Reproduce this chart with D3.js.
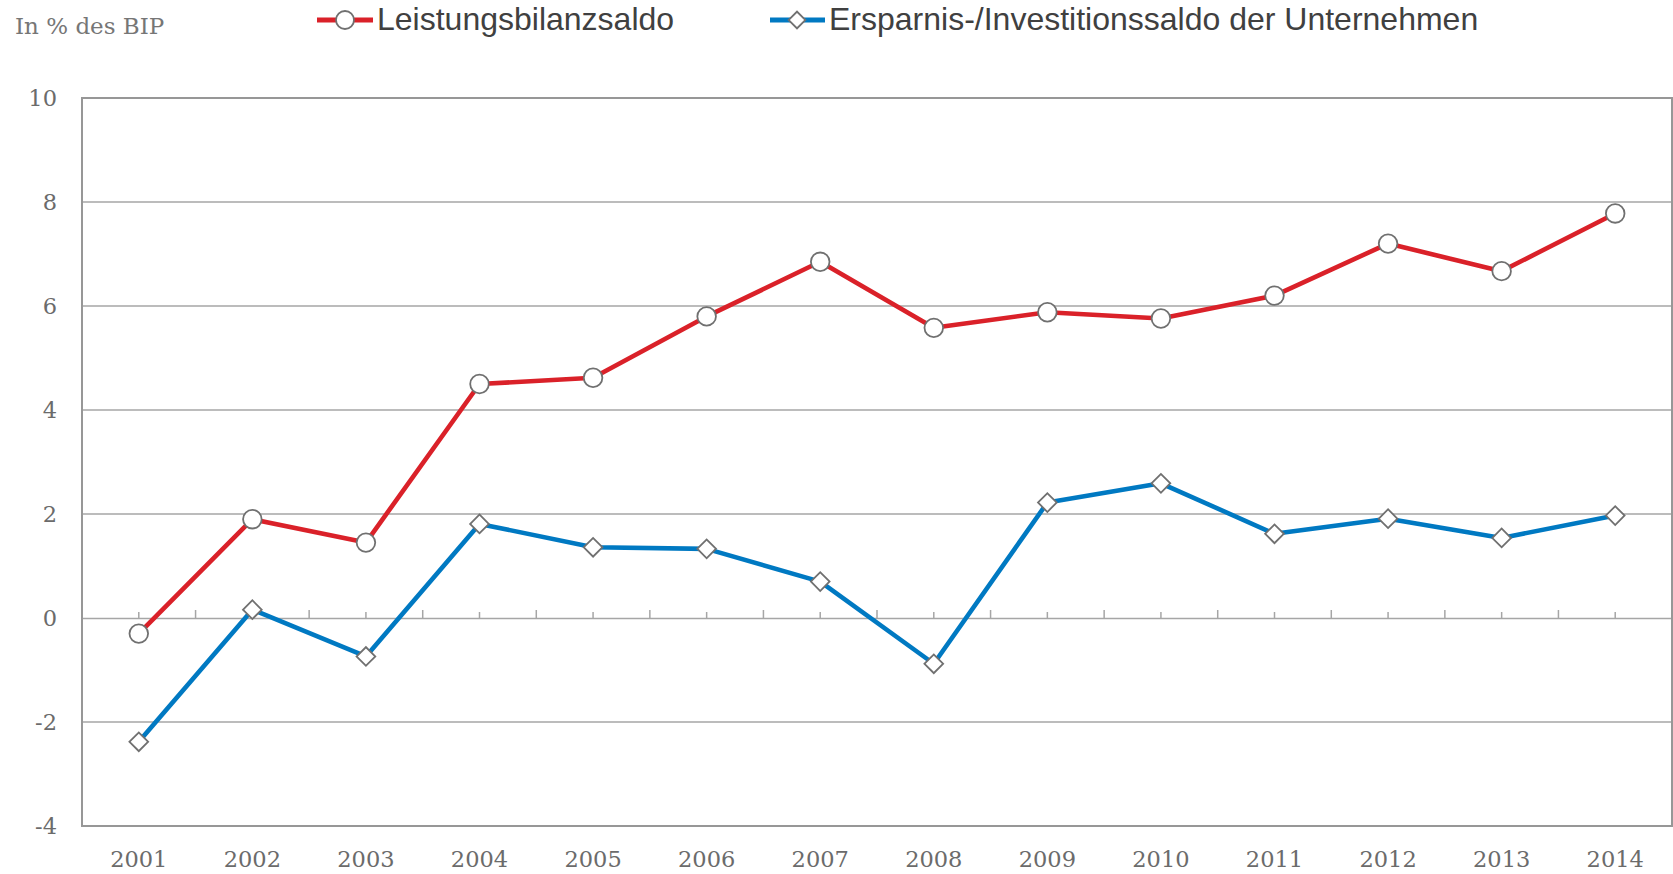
<!DOCTYPE html>
<html lang="de">
<head>
<meta charset="UTF-8">
<title>Leistungsbilanzsaldo</title>
<script src="https://d3js.org/d3.v7.min.js"></script>
<style>
body {margin: 0; background: #fff;}
svg {display: block;}
.serif {font-family: "DejaVu Serif", Georgia, serif; fill: #6b6b6b;}
.legend {font-family: "Liberation Sans", Arial, sans-serif; fill: #404040; font-size: 32px;}
</style>
</head>
<body>
<svg width="1673" height="874"></svg>
<script>
// data
var years = ["2001","2002","2003","2004","2005","2006","2007","2008","2009","2010","2011","2012","2013","2014"];
var leistungsbilanz = [-0.3, 1.9, 1.45, 4.5, 4.62, 5.8, 6.85, 5.58, 5.88, 5.76, 6.2, 7.2, 6.67, 7.78];
var unternehmen = [-2.38, 0.16, -0.74, 1.81, 1.36, 1.33, 0.7, -0.88, 2.22, 2.59, 1.62, 1.91, 1.54, 1.97];
var yTicks = [-4, -2, 0, 2, 4, 6, 8, 10];
var seriesNames = ["Leistungsbilanzsaldo", "Ersparnis-/Investitionssaldo der Unternehmen"];

var svg = d3.select("svg");
var plotLeft = 82, plotRight = 1672, plotTop = 98, plotBottom = 826;

var x = d3.scaleBand().domain(years).range([plotLeft, plotRight]).padding(0);
var y = d3.scaleLinear().domain([-4, 10]).range([plotBottom, plotTop]);
var cx = function(d, i) { return x(years[i]) + x.bandwidth() / 2; };

// gridlines
svg.append("g")
  .selectAll("line")
  .data(yTicks.filter(function(d) { return d != 0 && d != -4; }))
  .enter().append("line")
  .attr("x1", plotLeft).attr("x2", plotRight)
  .attr("y1", function(d) { return y(d); })
  .attr("y2", function(d) { return y(d); })
  .attr("stroke", "#a6a6a6").attr("stroke-width", 1.6);

// y labels
svg.append("g")
  .selectAll("text")
  .data(yTicks)
  .enter().append("text")
  .attr("class", "serif")
  .attr("x", 57)
  .attr("y", function(d) { return y(d); })
  .attr("dy", "0.36em")
  .attr("text-anchor", "end")
  .style("font-size", "22.5px")
  .text(function(d) { return d; });

// zero axis with ticks pointing up
var zeroAxis = svg.append("g")
  .attr("transform", "translate(0," + y(0) + ")")
  .call(d3.axisTop(x).tickSize(6).tickSizeOuter(0).tickFormat(""));
zeroAxis.select(".domain").attr("stroke", "#a6a6a6").attr("stroke-width", 1.6);
zeroAxis.selectAll(".tick line").attr("stroke", "#a6a6a6").attr("stroke-width", 1.5);
zeroAxis.selectAll(".between")
  .data(years.slice(1))
  .enter().append("line")
  .attr("class", "between")
  .attr("x1", function(d) { return x(d); })
  .attr("x2", function(d) { return x(d); })
  .attr("y1", 0).attr("y2", -8)
  .attr("stroke", "#a6a6a6").attr("stroke-width", 1.5);

// frame
svg.append("rect")
  .attr("x", plotLeft).attr("y", plotTop)
  .attr("width", plotRight - plotLeft).attr("height", plotBottom - plotTop)
  .attr("fill", "none").attr("stroke", "#979797").attr("stroke-width", 2);

// x labels
svg.append("g")
  .selectAll("text")
  .data(years)
  .enter().append("text")
  .attr("class", "serif")
  .attr("x", function(d) { return x(d) + x.bandwidth() / 2; })
  .attr("y", 867)
  .attr("text-anchor", "middle")
  .style("font-size", "22.5px")
  .text(function(d) { return d; });

var line = d3.line().x(cx).y(function(d) { return y(d); });

svg.append("path").datum(unternehmen)
  .attr("d", line).attr("fill", "none")
  .attr("stroke", "#0079c2").attr("stroke-width", 4.6).attr("stroke-linejoin", "round");
svg.append("path").datum(leistungsbilanz)
  .attr("d", line).attr("fill", "none")
  .attr("stroke", "#da2129").attr("stroke-width", 4.6).attr("stroke-linejoin", "round");

var diamond = d3.symbol().type(d3.symbolSquare).size(175);

svg.append("g")
  .selectAll("path")
  .data(unternehmen)
  .enter().append("path")
  .attr("d", diamond)
  .attr("transform", function(d, i) { return "translate(" + cx(d, i) + "," + y(d) + ") rotate(45)"; })
  .attr("fill", "#fff").attr("stroke", "#707070").attr("stroke-width", 1.8);

svg.append("g")
  .selectAll("circle")
  .data(leistungsbilanz)
  .enter().append("circle")
  .attr("cx", cx)
  .attr("cy", function(d) { return y(d); })
  .attr("r", 9.3)
  .attr("fill", "#fff").attr("stroke", "#707070").attr("stroke-width", 1.8);

// title
svg.append("text")
  .attr("class", "serif")
  .attr("x", 15).attr("y", 34)
  .style("font-size", "23px")
  .style("fill", "#767676")
  .text("In % des BIP");

// legend
var lg = svg.append("g");
lg.append("line").attr("x1", 317).attr("x2", 373).attr("y1", 20).attr("y2", 20)
  .attr("stroke", "#da2129").attr("stroke-width", 5);
lg.append("circle").attr("cx", 345).attr("cy", 20).attr("r", 9)
  .attr("fill", "#fff").attr("stroke", "#707070").attr("stroke-width", 1.8);
lg.append("text").attr("class", "legend").attr("x", 377).attr("y", 30).text(seriesNames[0]);

lg.append("line").attr("x1", 770).attr("x2", 825).attr("y1", 20).attr("y2", 20)
  .attr("stroke", "#0079c2").attr("stroke-width", 5);
lg.append("path").attr("d", d3.symbol().type(d3.symbolSquare).size(140))
  .attr("transform", "translate(797,20) rotate(45)")
  .attr("fill", "#fff").attr("stroke", "#707070").attr("stroke-width", 1.8);
lg.append("text").attr("class", "legend").attr("x", 829).attr("y", 30).text(seriesNames[1]);
</script>
</body>
</html>
